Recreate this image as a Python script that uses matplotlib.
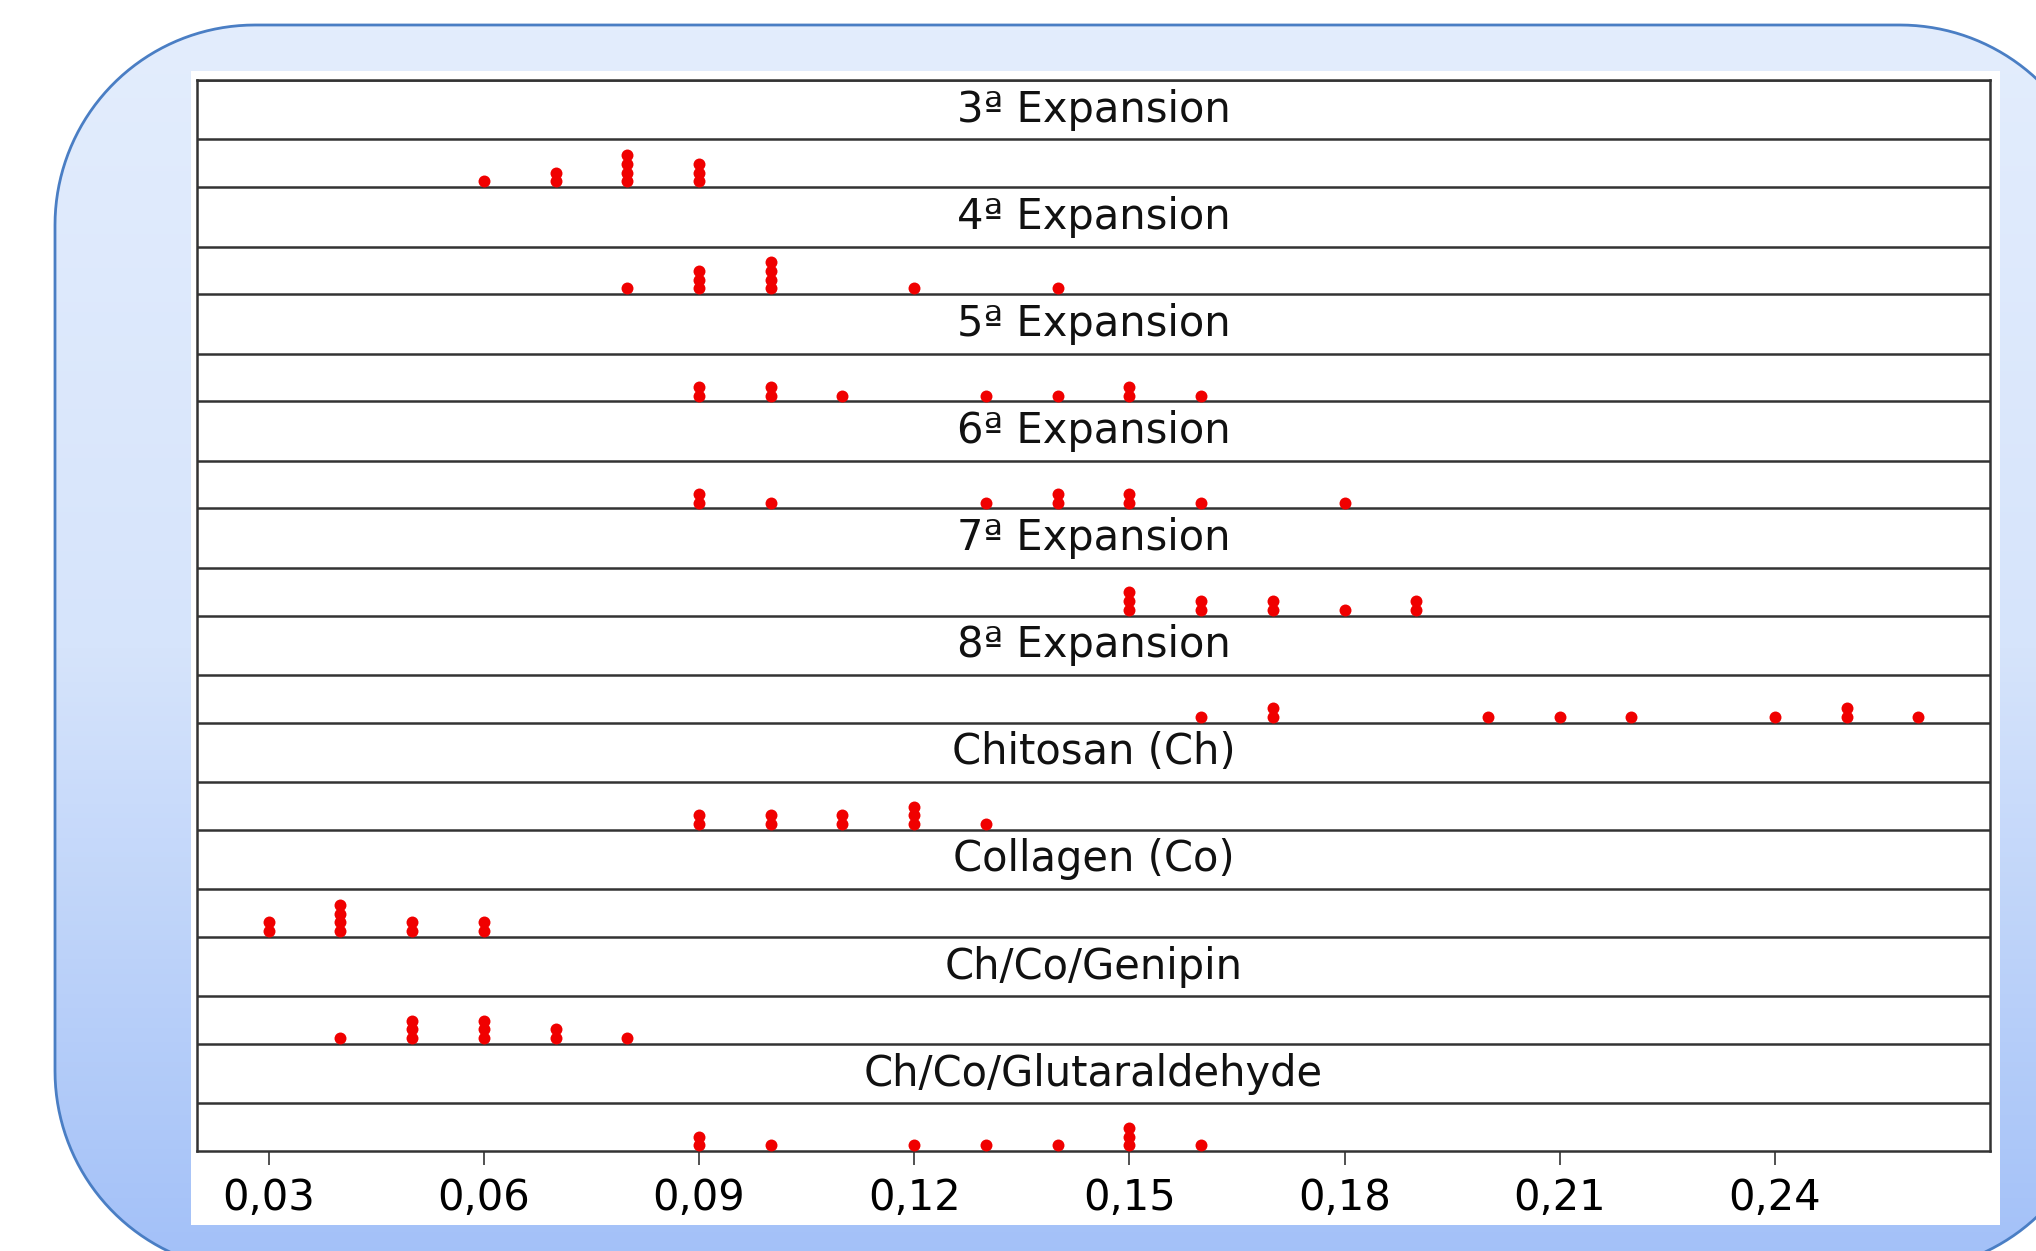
import matplotlib.pyplot as plt
import numpy as np
from collections import Counter
from matplotlib.patches import Polygon, Rectangle
from matplotlib.colors import LinearSegmentedColormap

# observations per group (dot plot, one dot per sample)
labels = ["3ª Expansion", "4ª Expansion", "5ª Expansion", "6ª Expansion",
          "7ª Expansion", "8ª Expansion", "Chitosan (Ch)", "Collagen (Co)",
          "Ch/Co/Genipin", "Ch/Co/Glutaraldehyde"]
exp3 = [0.06, 0.07, 0.07, 0.08, 0.08, 0.08, 0.08, 0.09, 0.09, 0.09]
exp4 = [0.08, 0.09, 0.09, 0.09, 0.10, 0.10, 0.10, 0.10, 0.12, 0.14]
exp5 = [0.09, 0.09, 0.10, 0.10, 0.11, 0.13, 0.14, 0.15, 0.15, 0.16]
exp6 = [0.09, 0.09, 0.10, 0.13, 0.14, 0.14, 0.15, 0.15, 0.16, 0.18]
exp7 = [0.15, 0.15, 0.15, 0.16, 0.16, 0.17, 0.17, 0.18, 0.19, 0.19]
exp8 = [0.16, 0.17, 0.17, 0.20, 0.21, 0.22, 0.24, 0.25, 0.25, 0.26]
chitosan = [0.09, 0.09, 0.10, 0.10, 0.11, 0.11, 0.12, 0.12, 0.12, 0.13]
collagen = [0.03, 0.03, 0.04, 0.04, 0.04, 0.04, 0.05, 0.05, 0.06, 0.06]
genipin = [0.04, 0.05, 0.05, 0.05, 0.06, 0.06, 0.06, 0.07, 0.07, 0.08]
glutaraldehyde = [0.09, 0.09, 0.10, 0.12, 0.13, 0.14, 0.15, 0.15, 0.15, 0.16]
groups = [exp3, exp4, exp5, exp6, exp7, exp8, chitosan, collagen, genipin, glutaraldehyde]

xticks = [0.03, 0.06, 0.09, 0.12, 0.15, 0.18, 0.21, 0.24]
xticklabels = ["0,03", "0,06", "0,09", "0,12", "0,15", "0,18", "0,21", "0,24"]

W, H = 2036, 1251
fig = plt.figure(figsize=(W/100, H/100), dpi=100)

# background: rounded blue frame with vertical gradient (pixel coords, y up)
bg = fig.add_axes([0, 0, 1, 1])
bg.axis('off')
x0, x1, y0, y1, r = 55, 2100, H-1271, H-25, 200
pts = []
for cx, cy, a0 in [(x1-r, y1-r, 0), (x0+r, y1-r, 90), (x0+r, y0+r, 180), (x1-r, y0+r, 270)]:
    a = np.radians(np.linspace(a0, a0+90, 40))
    pts += list(zip(cx + r*np.cos(a), cy + r*np.sin(a)))
frame = Polygon(pts, closed=True, facecolor='none', edgecolor='#4a7ec4', linewidth=2, zorder=3)
bg.add_patch(frame)
cmap = LinearSegmentedColormap.from_list('bgc', ['#e3edfd', '#d6e4fb', '#a2c0f8'])
grad = np.linspace(0, 1, 256).reshape(-1, 1)
im = bg.imshow(grad, extent=[x0, x1, y0, y1], origin='upper',
               cmap=cmap, aspect='auto', zorder=1)
im.set_clip_path(frame)
bg.add_patch(Rectangle((191, H-1225), 1809, 1154, facecolor='white', edgecolor='none', zorder=4))
bg.set_xlim(0, W)
bg.set_ylim(0, H)

# main plot
ax = fig.add_axes([197/W, 1-1151/H, (1990-197)/W, (1151-80)/H])
n = len(groups)
ax.set_xlim(0.02, 0.27)
ax.set_ylim(0, n)
title_frac = 0.555
step = 0.081
base_off = 0.054

for k, (lab, vals) in enumerate(zip(labels, groups)):
    top = n - k
    bottom = top - 1
    ax.text(0.145, top - title_frac/2, lab, ha='center', va='center',
            fontsize=30, family='DejaVu Sans', color='#111111')
    xs, ys = [], []
    for v, c in sorted(Counter(round(v, 2) for v in vals).items()):
        for j in range(c):
            xs.append(v)
            ys.append(bottom + base_off + j*step)
    ax.plot(xs, ys, 'o', color='#f00000', markersize=8.6, markeredgewidth=0, zorder=5)
    ax.axhline(top, color='#333333', lw=1.8, zorder=3)
    ax.axhline(top - title_frac, color='#333333', lw=1.8, zorder=3)

ax.set_yticks([])
ax.set_xticks(xticks)
ax.set_xticklabels(xticklabels, fontsize=30)
ax.tick_params(axis='x', direction='out', length=10, width=1.2, color='#333333', pad=9)
for s in ax.spines.values():
    s.set_color('#333333')
    s.set_linewidth(1.8)

fig.savefig('out.png', dpi=100)
